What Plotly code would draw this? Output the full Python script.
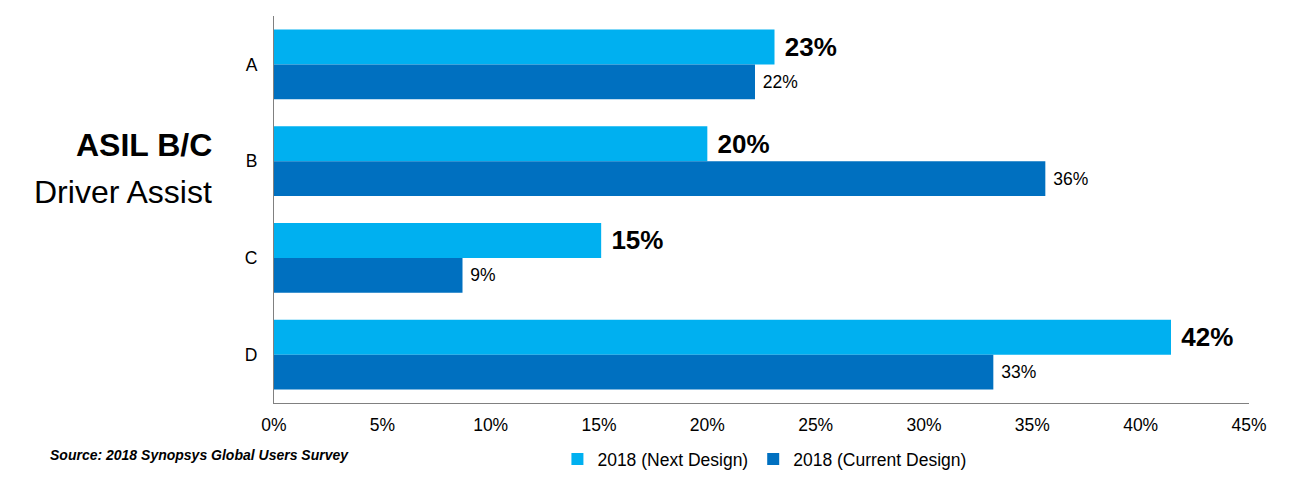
import plotly.graph_objects as go

categories = ["A", "B", "C", "D"]
next_design = [0.231, 0.200, 0.151, 0.414]
current_design = [0.222, 0.356, 0.087, 0.332]
next_labels = ["23%", "20%", "15%", "42%"]
current_labels = ["22%", "36%", "9%", "33%"]
x_ticks = [0, 0.05, 0.10, 0.15, 0.20, 0.25, 0.30, 0.35, 0.40, 0.45]

FONT = "Liberation Sans, Arial, sans-serif"
PAD = "\u00a0"

fig = go.Figure()
fig.add_trace(go.Bar(
    y=categories, x=next_design, orientation="h",
    name="2018 (Next Design)", marker=dict(color="#00B0F0", line=dict(width=0)),
    text=[PAD + t for t in next_labels], textposition="outside", cliponaxis=False,
    constraintext="none",
    textfont=dict(family=FONT, size=26, color="#000000", weight="bold"),
))
fig.add_trace(go.Bar(
    y=categories, x=current_design, orientation="h",
    name="2018 (Current Design)", marker=dict(color="#0070C0", line=dict(width=0)),
    text=[PAD + t for t in current_labels], textposition="outside", cliponaxis=False,
    constraintext="none",
    textfont=dict(family=FONT, size=17.5, color="#000000"),
))

fig.update_layout(
    width=1299, height=472,
    margin=dict(l=266, r=58, t=8, b=77, autoexpand=False),
    barmode="group", bargap=0.28, bargroupgap=0,
    plot_bgcolor="white", paper_bgcolor="white",
    font=dict(family=FONT, size=17.5, color="#000000"),
    showlegend=True,
    legend=dict(orientation="h", x=0.503, xanchor="center", y=-0.145, yanchor="middle",
                font=dict(size=17.5), traceorder="normal", itemwidth=30),
    xaxis=dict(range=[0, 0.45], tickvals=x_ticks, tickformat=".0%", showgrid=False,
               showline=True, linecolor="#808080", linewidth=1, ticks="", zeroline=False,
               ticklabelstandoff=6, tickfont=dict(size=17.5)),
    yaxis=dict(autorange="reversed", showline=True, linecolor="#808080", linewidth=1,
               ticks="", ticklabelstandoff=12, tickfont=dict(size=17.5), showgrid=False),
    annotations=[
        dict(text="<b>ASIL B/C</b>", xref="paper", yref="paper", x=-0.0616, y=(403-145)/387,
             xanchor="right", yanchor="middle", showarrow=False, font=dict(size=32)),
        dict(text="Driver Assist", xref="paper", yref="paper", x=-0.0616, y=(403-192)/387,
             xanchor="right", yanchor="middle", showarrow=False, font=dict(size=32)),
        dict(text="<b><i>Source: 2018 Synopsys Global Users Survey</i></b>", xref="paper", yref="paper",
             x=(48-274)/975, y=-(455-403)/387, xanchor="left", yanchor="middle",
             showarrow=False, font=dict(size=14)),
    ],
)

fig.write_html("out.html")
